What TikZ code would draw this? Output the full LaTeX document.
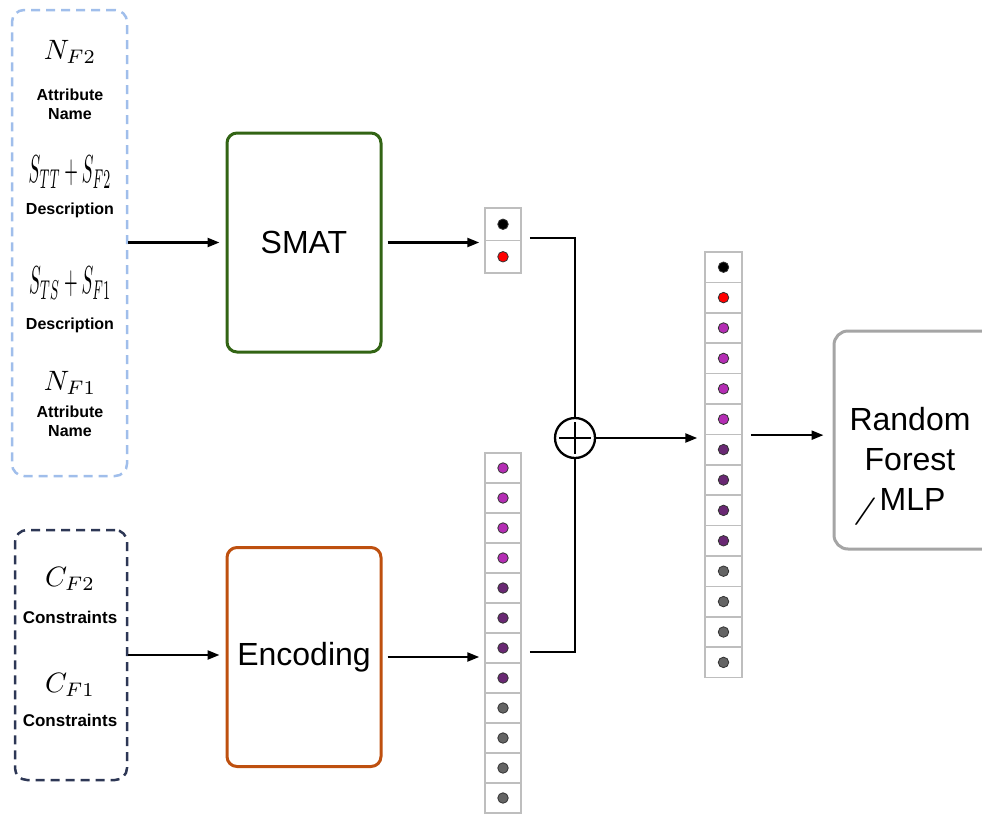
\documentclass[tikz,border=0pt]{standalone}
\usepackage{fontspec}
\setsansfont{Liberation Sans}
\usetikzlibrary{arrows.meta}
\definecolor{attrblue}{RGB}{160,190,235}
\definecolor{consnavy}{RGB}{45,55,85}
\definecolor{smatgreen}{RGB}{50,100,20}
\definecolor{encorange}{RGB}{190,80,15}
\definecolor{rfgray}{RGB}{165,165,165}
\definecolor{cellgray}{RGB}{190,190,190}
\definecolor{dotmag}{RGB}{180,45,180}
\definecolor{dotpurple}{RGB}{105,40,115}
\definecolor{dotgray}{RGB}{100,100,100}
\newcommand{\bigsym}[1]{\scalebox{2.8}{$#1$}}
\newcommand{\tallsym}[1]{\scalebox{1.75}[3.9]{$#1$}}

\begin{document}
\begin{tikzpicture}[
  x=1pt, y=-1pt,
  inbox/.style={rectangle, draw, line width=2.5pt, dash pattern=on 9pt off 6pt, rounded corners=12pt},
  model/.style={rectangle, draw, line width=3pt, rounded corners=10pt, minimum width=154pt, minimum height=219pt, font=\sffamily\fontsize{32}{40}\selectfont, align=center},
  sym/.style={inner sep=0pt},
  lbl/.style={font=\sffamily\bfseries\fontsize{16}{19}\selectfont, align=center},
  cell/.style={rectangle, draw=cellgray, line width=1.5pt, minimum width=36pt, minimum height=30pt, inner sep=0pt},
  dot/.style={circle, draw=black!80, line width=0.8pt, minimum size=10.5pt, inner sep=0pt},
  arrow/.style={-{Triangle[length=12pt, width=9pt]}, line width=2.3pt},
  link/.style={line width=2.3pt}
]
\useasboundingbox (0,0) rectangle (982,814);

% Inputs: attributes
\node[inbox, draw=attrblue, minimum width=115pt, minimum height=466pt] (attr) at (69.5,243) {};
\node[sym] (nf2) at (70,52) {\bigsym{N_{F2}}};
\node[lbl] (an2) at (70,104.5) {Attribute\\Name};
\node[sym] (s2) at (70,172) {\tallsym{S_{TT}+S_{F2}}};
\node[lbl] (de2) at (70,210) {Description};
\node[sym] (s1) at (70,283) {\tallsym{S_{TS}+S_{F1}}};
\node[lbl] (de1) at (70,325) {Description};
\node[sym] (nf1) at (70,383) {\bigsym{N_{F1}}};
\node[lbl] (an1) at (70,421) {Attribute\\Name};

% Inputs: constraints
\node[inbox, draw=consnavy, minimum width=112pt, minimum height=250pt] (cons) at (71,655) {};
\node[sym] (cf2) at (70,579) {\bigsym{C_{F2}}};
\node[lbl, font=\sffamily\bfseries\fontsize{17}{19}\selectfont] (co2) at (70,617) {Constraints};
\node[sym] (cf1) at (70,685) {\bigsym{C_{F1}}};
\node[lbl, font=\sffamily\bfseries\fontsize{17}{19}\selectfont] (co1) at (70,720) {Constraints};

% Models
\node[model, draw=smatgreen] (smat) at (304,242.5) {SMAT};
\node[model, draw=encorange] (enc) at (304,657) {Encoding};
\node[rectangle, draw=rfgray, line width=3pt, rounded corners=14pt, minimum width=162pt, minimum height=218pt] (rf) at (915,440) {};
\node[font=\sffamily\fontsize{32}{40}\selectfont, align=center] (rftext) at (910,466) {Random\\Forest\\\raisebox{-8pt}{\scalebox{2.2}[1.1]{$/$}}\kern2pt MLP\rule{22pt}{0pt}};

% Vectors
\foreach \c [count=\i] in {black,red} {
  \node[cell, minimum height=32.5pt] (sv\i) at (503,{191.75+32.5*\i}) {};
  \node[dot, fill=\c] (svd\i) at (sv\i) {};
}
\foreach \c [count=\i] in {dotmag,dotmag,dotmag,dotmag,dotpurple,dotpurple,dotpurple,dotpurple,dotgray,dotgray,dotgray,dotgray} {
  \node[cell] (ev\i) at (503,{438+30*\i}) {};
  \node[dot, fill=\c] (evd\i) at (ev\i) {};
}
\foreach \c [count=\i] in {black,red,dotmag,dotmag,dotmag,dotmag,dotpurple,dotpurple,dotpurple,dotpurple,dotgray,dotgray,dotgray,dotgray} {
  \node[cell, minimum width=37pt, minimum height=30.4pt] (fv\i) at (723.5,{236.8+30.4*\i}) {};
  \node[dot, fill=\c] (fvd\i) at (fv\i) {};
}

% Concatenation
\node[circle, draw, line width=2.3pt, minimum size=40pt, inner sep=0pt] (plus) at (575,438) {};
\draw[link] (plus.center) +(-16,0) -- +(16,0) (plus.center) +(0,-16) -- +(0,16);

% Arrows
\draw[arrow, shorten >=6pt] (attr.east |- smat.west) -- (smat.west);
\draw[arrow, shorten >=6pt] (cons.east) -- (cons.east -| enc.west);
\draw[arrow, shorten <=5pt, shorten >=5pt] (smat.east) -- (smat.east -| sv1.west);
\draw[arrow, shorten <=5pt, shorten >=5pt] (enc.east) -- (enc.east -| ev7.west);
\draw[link] ([xshift=8pt, yshift=3pt]sv1.south east) -| (plus.north);
\draw[link] ([xshift=8pt, yshift=-4pt]ev7.east) -| (plus.south);
\draw[arrow, shorten >=7pt] (plus.east) -- (plus.east -| fv6.south west);
\draw[arrow, shorten <=8pt, shorten >=9pt] (fv6.south east) -- (fv6.south east -| rf.west);

\end{tikzpicture}
\end{document}
